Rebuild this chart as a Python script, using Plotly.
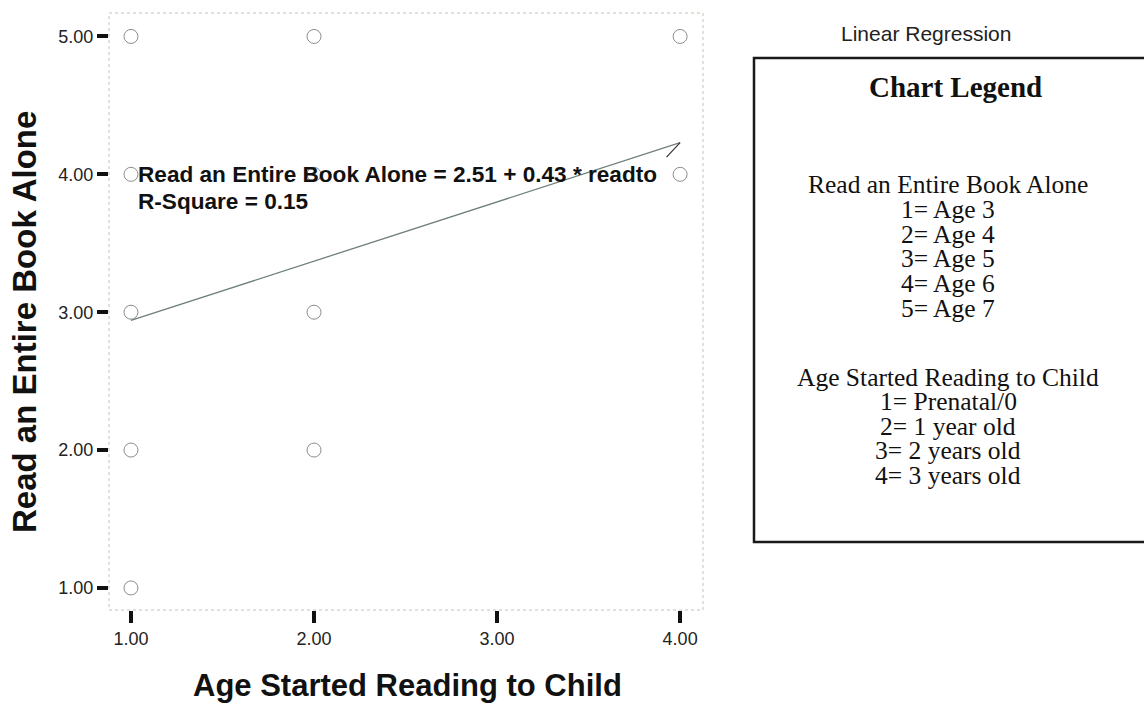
import plotly.graph_objects as go

# Observed combinations (age started reading to child, age child read a book alone)
read_to = [1, 2, 4, 1, 2, 4, 1, 2, 1, 2, 1]
read_alone = [5, 5, 5, 4, 4, 4, 3, 3, 2, 2, 1]

# Fitted linear regression
intercept = 2.51
slope = 0.43
r_square = 0.15
fit_x = [1.0, 4.0]
fit_y = [intercept + slope * v for v in fit_x]

x_ticks = [1, 2, 3, 4]
y_ticks = [1, 2, 3, 4, 5]

legend_title = "Chart Legend"
legend_groups = [
    ("Read an Entire Book Alone", ["1= Age 3", "2= Age 4", "3= Age 5", "4= Age 6", "5= Age 7"]),
    ("Age Started Reading to Child", ["1= Prenatal/0", "2= 1 year old", "3= 2 years old", "4= 3 years old"]),
]

W, H = 1144, 704
ML, MR, MT, MB = 109, 441, 13, 94
PW, PH = W - ML - MR, H - MT - MB

def px(x):
    return (x - ML) / PW

def py(y):
    return (H - MB - y) / PH

SANS = "Liberation Sans, Arial, sans-serif"
SERIF = "Liberation Serif, Times New Roman, serif"

fig = go.Figure()

fig.add_trace(go.Scatter(
    x=fit_x, y=fit_y, mode="lines",
    line=dict(color="#6f8076", width=1.3),
    hoverinfo="skip", showlegend=False,
))

fig.add_trace(go.Scatter(
    x=read_to, y=read_alone, mode="markers",
    marker=dict(symbol="circle-open", size=14, color="#8c8c8c", line=dict(width=1)),
    showlegend=False,
))

annotations = [
    # equation and fit quality next to the regression line
    dict(x=1.03, y=4.0, xref="x", yref="y", xanchor="left", yanchor="middle",
         text="<b>Read an Entire Book Alone = %.2f + %.2f * readto</b>" % (intercept, slope),
         showarrow=False, font=dict(family=SANS, size=22.6, color="#111")),
    dict(x=1.03, y=3.80, xref="x", yref="y", xanchor="left", yanchor="middle",
         text="<b>R-Square = %.2f</b>" % r_square,
         showarrow=False, font=dict(family=SANS, size=22.6, color="#111")),
    # leader from the line end to the label
    dict(x=fit_x[1], y=fit_y[1], xref="x", yref="y", text="", showarrow=True,
         arrowhead=0, arrowwidth=1.2, arrowcolor="#333", ax=-15, ay=16),
    # axis titles
    dict(x=px(407), y=py(685), xref="paper", yref="paper", xanchor="center", yanchor="middle",
         text="<b>Age Started Reading to Child</b>", showarrow=False,
         font=dict(family=SANS, size=31, color="#111")),
    dict(x=px(24), y=py(322), xref="paper", yref="paper", xanchor="center", yanchor="middle",
         text="<b>Read an Entire Book Alone</b>", showarrow=False, textangle=-90,
         font=dict(family=SANS, size=33, color="#111")),
    dict(x=px(926), y=py(33), xref="paper", yref="paper", xanchor="center", yanchor="middle",
         text="Linear Regression", showarrow=False,
         font=dict(family=SANS, size=21, color="#222")),
    dict(x=px(956), y=py(87), xref="paper", yref="paper", xanchor="center", yanchor="middle",
         text="<b>%s</b>" % legend_title, showarrow=False,
         font=dict(family=SERIF, size=29, color="#111")),
]

row_y = 185
step = 24.6
for heading, items in legend_groups:
    for line in [heading] + items:
        annotations.append(dict(
            x=px(948), y=py(row_y), xref="paper", yref="paper",
            xanchor="center", yanchor="middle", text=line, showarrow=False,
            font=dict(family=SERIF, size=25.5, color="#111")))
        row_y += step
    row_y += 44.4

shapes = [
    # dotted frame around the plotting area
    dict(type="rect", xref="paper", yref="paper", x0=0, x1=1, y0=0, y1=1,
         line=dict(color="#c4c4b0", width=1, dash="dot"), layer="below"),
    # legend box
    dict(type="rect", xref="paper", yref="paper", x0=px(754), x1=px(1160),
         y0=py(542), y1=py(58), line=dict(color="#1a1a1a", width=2.5)),
]

fig.update_layout(
    width=W, height=H,
    margin=dict(l=ML, r=MR, t=MT, b=MB),
    paper_bgcolor="white", plot_bgcolor="white",
    annotations=annotations, shapes=shapes,
    xaxis=dict(range=[0.88, 4.125], tickvals=x_ticks, tickformat=".2f",
               ticks="outside", ticklen=12, tickwidth=3.5, tickcolor="#111",
               showgrid=False, zeroline=False, showline=False,
               tickfont=dict(family=SANS, size=18, color="#222")),
    yaxis=dict(range=[0.84, 5.17], tickvals=y_ticks, tickformat=".2f",
               ticks="outside", ticklen=11, tickwidth=3.5, tickcolor="#111",
               showgrid=False, zeroline=False, showline=False,
               tickfont=dict(family=SANS, size=18, color="#222")),
    showlegend=False,
)

fig.write_html("out.html")
